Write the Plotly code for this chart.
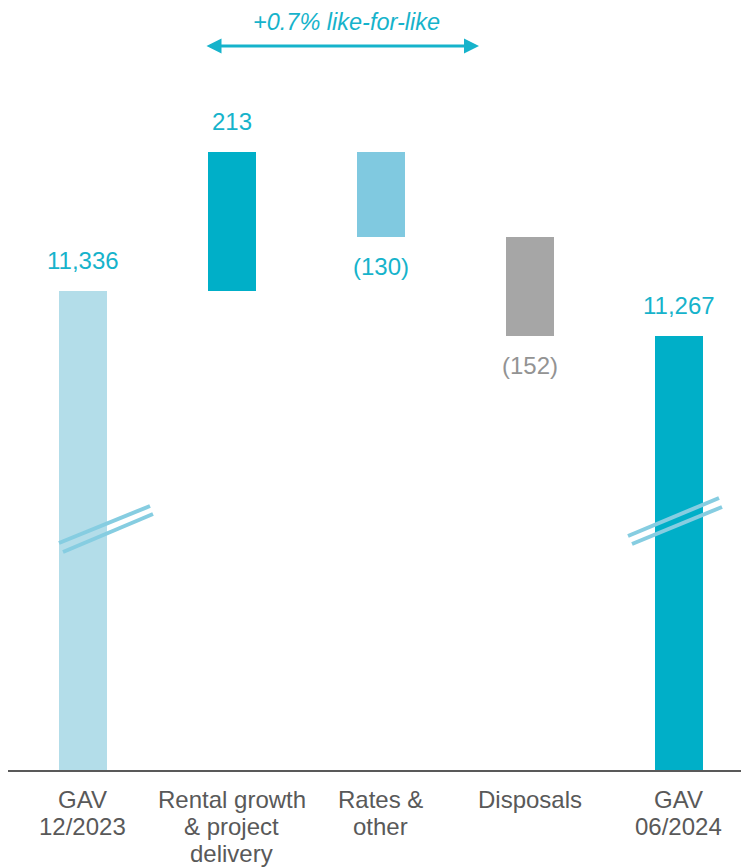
import plotly.graph_objects as go

# ---- data ----
categories = ["GAV<br>12/2023", "Rental growth<br>& project<br>delivery", "Rates &<br>other", "Disposals", "GAV<br>06/2024"]
start_value = 11336
deltas = [213, -130, -152]
end_value = 11267
value_labels = ["11,336", "213", "(130)", "(152)", "11,267"]
bar_colors = ["#b3dde9", "#00afc8", "#80c9e0", "#a6a6a6", "#00afc8"]
label_colors = ["#16b3cb", "#16b3cb", "#16b3cb", "#939393", "#16b3cb"]
lfl_text = "+0.7% like-for-like"

# ---- layout geometry (page has an 8px body margin) ----
OFF = 8
W, H = 749 - OFF, 868 - OFF
ML, MR, MT, MB = 0, 0, 60 - OFF, 98
X_RANGE = [-0.503, 4.47]
Y_RANGE = [10604, 11689]
plot_w = W - ML - MR
plot_h = H - MT - MB


def px_to_x(px):
    # px is a page pixel position
    return X_RANGE[0] + (px - OFF - ML) / plot_w * (X_RANGE[1] - X_RANGE[0])


def py_to_y(py):
    return Y_RANGE[0] + (MT + plot_h - (py - OFF)) / plot_h * (Y_RANGE[1] - Y_RANGE[0])


def py_to_paper(py):
    return (MT + plot_h - (py - OFF)) / plot_h


# ---- waterfall bases/heights ----
xs = list(range(len(categories)))
bases, heights = [0], [start_value]
level = start_value
for d in deltas:
    if d >= 0:
        bases.append(level)
        heights.append(d)
    else:
        bases.append(level + d)
        heights.append(-d)
    level += d
bases.append(0)
heights.append(end_value)

fig = go.Figure()
fig.add_trace(go.Bar(
    x=xs, y=heights, base=bases, width=0.322,
    marker=dict(color=bar_colors, line=dict(width=0)),
    hoverinfo="skip", showlegend=False,
))

FONT = "Liberation Sans, Arial, sans-serif"
FS = 24
annotations = []

# value labels
for i in xs:
    top = bases[i] + heights[i]
    bottom = bases[i]
    is_neg = (0 < i < len(xs) - 1) and deltas[i - 1] < 0
    if is_neg:
        annotations.append(dict(x=i, y=bottom, xref="x", yref="y", text=value_labels[i],
                                showarrow=False, yanchor="top", yshift=-14,
                                font=dict(family=FONT, size=FS, color=label_colors[i])))
    else:
        annotations.append(dict(x=i, y=top, xref="x", yref="y", text=value_labels[i],
                                showarrow=False, yanchor="bottom", yshift=15,
                                font=dict(family=FONT, size=FS, color=label_colors[i])))

# category labels, line by line
for i, cat in enumerate(categories):
    for k, line in enumerate(cat.split("<br>")):
        annotations.append(dict(x=i, y=0, xref="x", yref="paper", text=line,
                                showarrow=False, yanchor="top", yshift=-14 - 27 * k,
                                font=dict(family=FONT, size=FS, color="#595959")))

# like-for-like arrow
arrow_len_px = 479 - 205
annotations.append(dict(
    x=px_to_x(479), y=py_to_paper(46), xref="x", yref="paper",
    ax=-arrow_len_px, ay=0, axref="pixel", ayref="pixel",
    text="", showarrow=True, arrowhead=2, startarrowhead=2, arrowside="end+start",
    arrowwidth=3, arrowsize=1, startarrowsize=1, arrowcolor="#16b3cb",
    standoff=0, startstandoff=0,
))
annotations.append(dict(
    x=px_to_x(346.5), y=py_to_paper(OFF), xref="x", yref="paper",
    text="<i>" + lfl_text + "</i>", showarrow=False, yanchor="top",
    borderpad=0,
    font=dict(family=FONT, size=23.5, color="#16b3cb"),
))

# axis break marks on the two GAV bars
shapes = []
break_marks = [
    [((59, 543), (150, 506)), ((63, 552), (153, 514))],
    [((628, 536), (719, 498)), ((632, 544), (722, 507))],
]
for pair in break_marks:
    for (x0, y0), (x1, y1) in pair:
        shapes.append(dict(type="line", xref="x", yref="y",
                           x0=px_to_x(x0), y0=py_to_y(y0), x1=px_to_x(x1), y1=py_to_y(y1),
                           line=dict(color="#86cde1", width=4)))

fig.update_layout(
    width=W, height=H,
    margin=dict(l=ML, r=MR, t=MT, b=MB, pad=0),
    paper_bgcolor="white", plot_bgcolor="white",
    xaxis=dict(range=X_RANGE, showticklabels=False, showgrid=False, zeroline=False,
               showline=True, linecolor="#595959", linewidth=2, ticks="", fixedrange=True),
    yaxis=dict(range=Y_RANGE, visible=False, showgrid=False, zeroline=False, fixedrange=True),
    annotations=annotations, shapes=shapes,
    bargap=0, font=dict(family=FONT),
)

fig.write_html("out.html")
